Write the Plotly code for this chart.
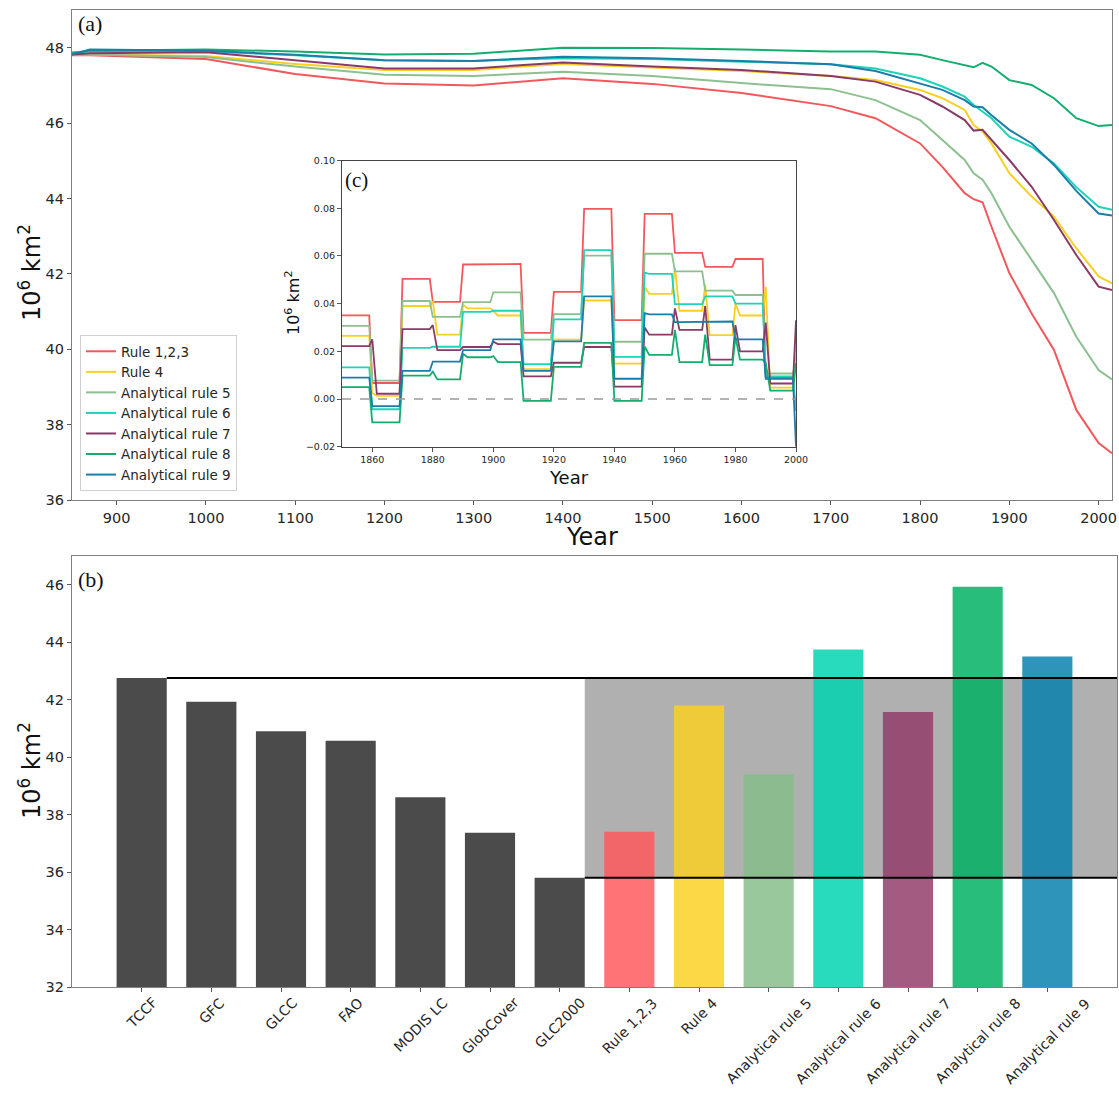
import plotly.graph_objects as go

# ---------------- data ----------------
series_names = ["Rule 1,2,3", "Rule 4", "Analytical rule 5", "Analytical rule 6",
                "Analytical rule 7", "Analytical rule 8", "Analytical rule 9"]
line_colors = ["#F2585B", "#F8D021", "#8CC08F", "#1ED3B6", "#8A3A67", "#13AE6E", "#1B7DAA"]

# panel (a): forest area, 10^6 km2
years_a = [850, 870, 1000, 1100, 1200, 1300, 1400, 1500, 1600, 1700, 1750, 1800, 1825,
           1850, 1860, 1870, 1880, 1900, 1925, 1950, 1975, 2000, 2015]
rule123 = [47.80, 47.80, 47.70, 47.30, 47.05, 47.00, 47.19, 47.04, 46.80, 46.45, 46.13, 45.46, 44.84,
           44.14, 43.98, 43.90, 43.25, 42.02, 40.95, 39.98, 38.39, 37.51, 37.24]
rule4 = [47.82, 47.82, 47.78, 47.57, 47.41, 47.41, 47.57, 47.48, 47.38, 47.25, 47.14, 46.88, 46.66,
         46.35, 45.95, 45.77, 45.46, 44.67, 44.05, 43.52, 42.68, 41.93, 41.75]
arule5 = [47.82, 47.82, 47.75, 47.50, 47.28, 47.25, 47.36, 47.25, 47.06, 46.90, 46.61, 46.08, 45.55,
          45.02, 44.67, 44.50, 44.14, 43.25, 42.37, 41.49, 40.33, 39.45, 39.20]
arule6 = [47.88, 47.90, 47.90, 47.80, 47.67, 47.65, 47.72, 47.70, 47.63, 47.56, 47.45, 47.19, 46.97,
          46.70, 46.48, 46.30, 46.13, 45.64, 45.37, 44.93, 44.30, 43.78, 43.70]
arule7 = [47.82, 47.85, 47.88, 47.67, 47.45, 47.45, 47.61, 47.50, 47.41, 47.25, 47.10, 46.75, 46.44,
          46.08, 45.80, 45.82, 45.55, 45.02, 44.31, 43.43, 42.50, 41.66, 41.57]
arule8 = [47.85, 47.92, 47.95, 47.90, 47.82, 47.84, 48.00, 47.99, 47.95, 47.90, 47.90, 47.81, 47.67,
          47.54, 47.48, 47.60, 47.50, 47.14, 47.01, 46.66, 46.13, 45.92, 45.95]
arule9 = [47.82, 47.95, 47.92, 47.81, 47.67, 47.65, 47.76, 47.72, 47.65, 47.56, 47.38, 47.06, 46.88,
          46.61, 46.44, 46.42, 46.21, 45.82, 45.46, 44.89, 44.20, 43.60, 43.55]
series_a = [rule123, rule4, arule5, arule6, arule7, arule8, arule9]

# panel (c): decadal difference, 10^6 km2 (level for each decade, value at decade start, end value)
decades_c = [1850, 1860, 1870, 1880, 1890, 1900, 1910, 1920, 1930, 1940, 1950, 1960, 1970, 1980, 1990]
c_rule123_lvl = [0.0351, 0.0067, 0.0504, 0.0407, 0.0564, 0.0566, 0.0277, 0.0449, 0.0797, 0.0331,
                 0.0776, 0.0613, 0.0554, 0.0587, 0.0090]
c_rule123_start = c_rule123_lvl
c_rule4_lvl = [0.0265, 0.0013, 0.0390, 0.0270, 0.0380, 0.0350, 0.0125, 0.0249, 0.0413, 0.0148,
               0.0441, 0.0370, 0.0268, 0.0350, 0.0048]
c_rule4_start = [0.0265, 0.0025, 0.0390, 0.0410, 0.0395, 0.0370, 0.0125, 0.0249, 0.0413, 0.0148,
                 0.0470, 0.0550, 0.0480, 0.0400, 0.0470]
c_arule5_lvl = [0.0307, 0.0077, 0.0411, 0.0344, 0.0406, 0.0447, 0.0249, 0.0356, 0.0601, 0.0240,
                0.0609, 0.0535, 0.0454, 0.0436, 0.0107]
c_arule5_start = c_arule5_lvl
c_arule6_lvl = [0.0133, -0.0043, 0.0214, 0.0219, 0.0365, 0.0370, 0.0146, 0.0334, 0.0624, 0.0177,
                0.0525, 0.0398, 0.0430, 0.0400, 0.0095]
c_arule6_start = [0.0133, -0.0043, 0.0214, 0.0219, 0.0365, 0.0370, 0.0146, 0.0334, 0.0624, 0.0177,
                  0.0530, 0.0398, 0.0430, 0.0400, 0.0095]
c_arule7_lvl = [0.0222, 0.0022, 0.0293, 0.0205, 0.0218, 0.0230, 0.0095, 0.0152, 0.0218, 0.0052,
                0.0270, 0.0290, 0.0165, 0.0200, 0.0065]
c_arule7_start = [0.0222, 0.0250, 0.0293, 0.0310, 0.0218, 0.0240, 0.0095, 0.0152, 0.0218, 0.0052,
                  0.0300, 0.0380, 0.0390, 0.0310, 0.0320]
c_arule8_lvl = [0.0050, -0.0098, 0.0098, 0.0082, 0.0175, 0.0155, -0.0008, 0.0135, 0.0235, -0.0008,
                0.0185, 0.0155, 0.0142, 0.0165, 0.0035]
c_arule8_start = [0.0050, -0.0098, 0.0098, 0.0115, 0.0190, 0.0180, -0.0008, 0.0135, 0.0235, -0.0008,
                  0.0220, 0.0290, 0.0270, 0.0260, 0.0150]
c_arule9_lvl = [0.0090, -0.0030, 0.0118, 0.0157, 0.0205, 0.0250, 0.0118, 0.0242, 0.0430, 0.0085,
                0.0355, 0.0322, 0.0325, 0.0250, 0.0085]
c_arule9_start = [0.0090, -0.0030, 0.0118, 0.0157, 0.0205, 0.0250, 0.0118, 0.0242, 0.0430, 0.0085,
                  0.0360, 0.0322, 0.0325, 0.0250, 0.0085]
c_end_2000 = [0.020, 0.025, 0.015, -0.005, 0.033, 0.015, -0.020]
series_c = [(c_rule123_lvl, c_rule123_start), (c_rule4_lvl, c_rule4_start),
            (c_arule5_lvl, c_arule5_start), (c_arule6_lvl, c_arule6_start),
            (c_arule7_lvl, c_arule7_start), (c_arule8_lvl, c_arule8_start),
            (c_arule9_lvl, c_arule9_start)]

# panel (b): forest area around 2000 by product / rule
products_b = ["TCCF", "GFC", "GLCC", "FAO", "MODIS LC", "GlobCover", "GLC2000",
              "Rule 1,2,3", "Rule 4", "Analytical rule 5", "Analytical rule 6",
              "Analytical rule 7", "Analytical rule 8", "Analytical rule 9"]
values_b = [42.75, 41.93, 40.90, 40.57, 38.60, 37.37, 35.80,
            37.40, 41.80, 39.40, 43.75, 41.57, 45.93, 43.50]
bar_colors = ["#4B4B4B"] * 7 + ["#FF575A", "#FDD122", "#87BE8A", "#00D4B0",
                                 "#923C69", "#00B063", "#0780AC"]
bar_opacity = [1.0] * 7 + [0.84] * 7

# body margin is removed in the page (post_script), so the figure fills the window
OFF = 0
W, H = 1119, 1096
fig = go.Figure()

# ---------- panel (a) ----------
for name, col, vals in zip(series_names, line_colors, series_a):
    fig.add_trace(go.Scatter(x=years_a, y=vals, mode="lines", name=name,
                             line=dict(color=col, width=2), xaxis="x", yaxis="y"))

# ---------- panel (c) inset ----------
for i, (col, (lvl, st)) in enumerate(zip(line_colors, series_c)):
    xs, ys = [], []
    for j, d in enumerate(decades_c):
        if j == 0:
            xs.append(d); ys.append(lvl[0])
        else:
            xs.append(d); ys.append(st[j])
        xs += [d + 1.5, d + 9]
        ys += [lvl[j], lvl[j]]
    xs.append(2000); ys.append(c_end_2000[i])
    fig.add_trace(go.Scatter(x=xs, y=ys, mode="lines", showlegend=False,
                             line=dict(color=col, width=1.8), xaxis="x3", yaxis="y3"))
fig.add_trace(go.Scatter(x=[1850, 2000], y=[0, 0], mode="lines", showlegend=False,
                         line=dict(color="#9a9a9a", width=1.4, dash="dash"),
                         xaxis="x3", yaxis="y3"))

# ---------- panel (b) ----------
fig.add_trace(go.Bar(x=products_b, y=values_b, width=0.72, showlegend=False,
                     marker=dict(color=bar_colors, opacity=bar_opacity, line=dict(width=0)),
                     xaxis="x2", yaxis="y2"))

fig.add_shape(type="rect", xref="x2", yref="y2", x0=6.36, x1=14, y0=values_b[6], y1=values_b[0],
              fillcolor="#B0B0B0", line=dict(width=0), layer="below")
fig.add_shape(type="line", xref="x2", yref="y2", x0=0.36, x1=14, y0=values_b[0], y1=values_b[0],
              line=dict(color="black", width=2))
fig.add_shape(type="line", xref="x2", yref="y2", x0=6.36, x1=14, y0=values_b[6], y1=values_b[6],
              line=dict(color="black", width=2))

axis_common = dict(showline=True, linecolor="#808080", linewidth=1.2, mirror=True,
                   ticks="outside", ticklen=4, tickcolor="#555555", showgrid=False,
                   zeroline=False, automargin=False)

def px_x(p):
    return (p - OFF) / W

def px_y(p):
    return 1 - (p - OFF) / H

tf = lambda s: dict(size=s, family="DejaVu Sans", color="#262626")

fig.update_layout(
    width=W, height=H, autosize=False,
    margin=dict(l=0, r=0, t=0, b=0, pad=0),
    paper_bgcolor="white", plot_bgcolor="white",
    font=dict(family="DejaVu Sans", color="#262626"),
    xaxis=dict(axis_common, domain=[px_x(72), px_x(1112)], range=[850, 2015],
               tickvals=list(range(900, 2001, 100)), tickfont=tf(14.5), anchor="y",
               ticklabeloverflow="allow"),
    yaxis=dict(axis_common, domain=[px_y(500), px_y(10)], range=[36, 49],
               tickvals=list(range(36, 49, 2)), tickfont=tf(14.5), anchor="x"),
    xaxis2=dict(axis_common, domain=[px_x(72), px_x(1117)], range=[-1, 14], type="category",
                showticklabels=False, anchor="y2"),
    yaxis2=dict(axis_common, domain=[px_y(987), px_y(556)], range=[32, 47],
                tickvals=list(range(32, 47, 2)), tickfont=tf(14.5), anchor="x2"),
    xaxis3=dict(axis_common, domain=[px_x(342), px_x(796)], range=[1850, 2000],
                tickvals=list(range(1860, 2001, 20)), tickfont=tf(9.5),
                anchor="y3", linecolor="#444444"),
    yaxis3=dict(axis_common, domain=[px_y(446.7), px_y(160.5)], range=[-0.02, 0.10],
                tickvals=[-0.02, 0, 0.02, 0.04, 0.06, 0.08, 0.10], tickformat=".2f",
                tickfont=tf(9.5), anchor="x3", linecolor="#444444"),
    legend=dict(x=px_x(80), y=px_y(491), xanchor="left", yanchor="bottom",
                bgcolor="rgba(255,255,255,0.85)", bordercolor="#d0d0d0", borderwidth=1,
                font=tf(13.5), tracegroupgap=0, itemwidth=30),
)

ann = []
def add_ann(text, x, y, size, angle=0, family="DejaVu Sans", xanchor="center", yanchor="middle"):
    ann.append(dict(text=text, x=px_x(x), y=px_y(y), xref="paper", yref="paper",
                    showarrow=False, textangle=angle, xanchor=xanchor, yanchor=yanchor,
                    font=dict(size=size, family=family, color="#111111")))

add_ann("(a)", 76, 24, 22, family="Liberation Serif", xanchor="left")
add_ann("(b)", 76, 579, 22, family="Liberation Serif", xanchor="left")
add_ann("(c)", 343, 180, 21, family="Liberation Serif", xanchor="left")
add_ann("10<sup>6</sup> km<sup>2</sup>", 30, 273, 24, angle=-90)
add_ann("10<sup>6</sup> km<sup>2</sup>", 30, 771, 24, angle=-90)
add_ann("Year", 592, 537, 24)
add_ann("10<sup>6</sup> km<sup>2</sup>", 292, 303, 16, angle=-90)
add_ann("Year", 569, 477, 18)

# rotated category labels centred under each bar (as in the reference)
for cat in products_b:
    ann.append(dict(text=cat, x=cat, xref="x2", y=px_y(992), yref="paper",
                    showarrow=False, textangle=-45, xanchor="center", yanchor="top",
                    font=tf(14)))
fig.update_layout(annotations=ann)

fig.write_html("out.html", config={"displayModeBar": False},
               post_script="document.body.style.margin='0';document.body.style.overflow='hidden';")
